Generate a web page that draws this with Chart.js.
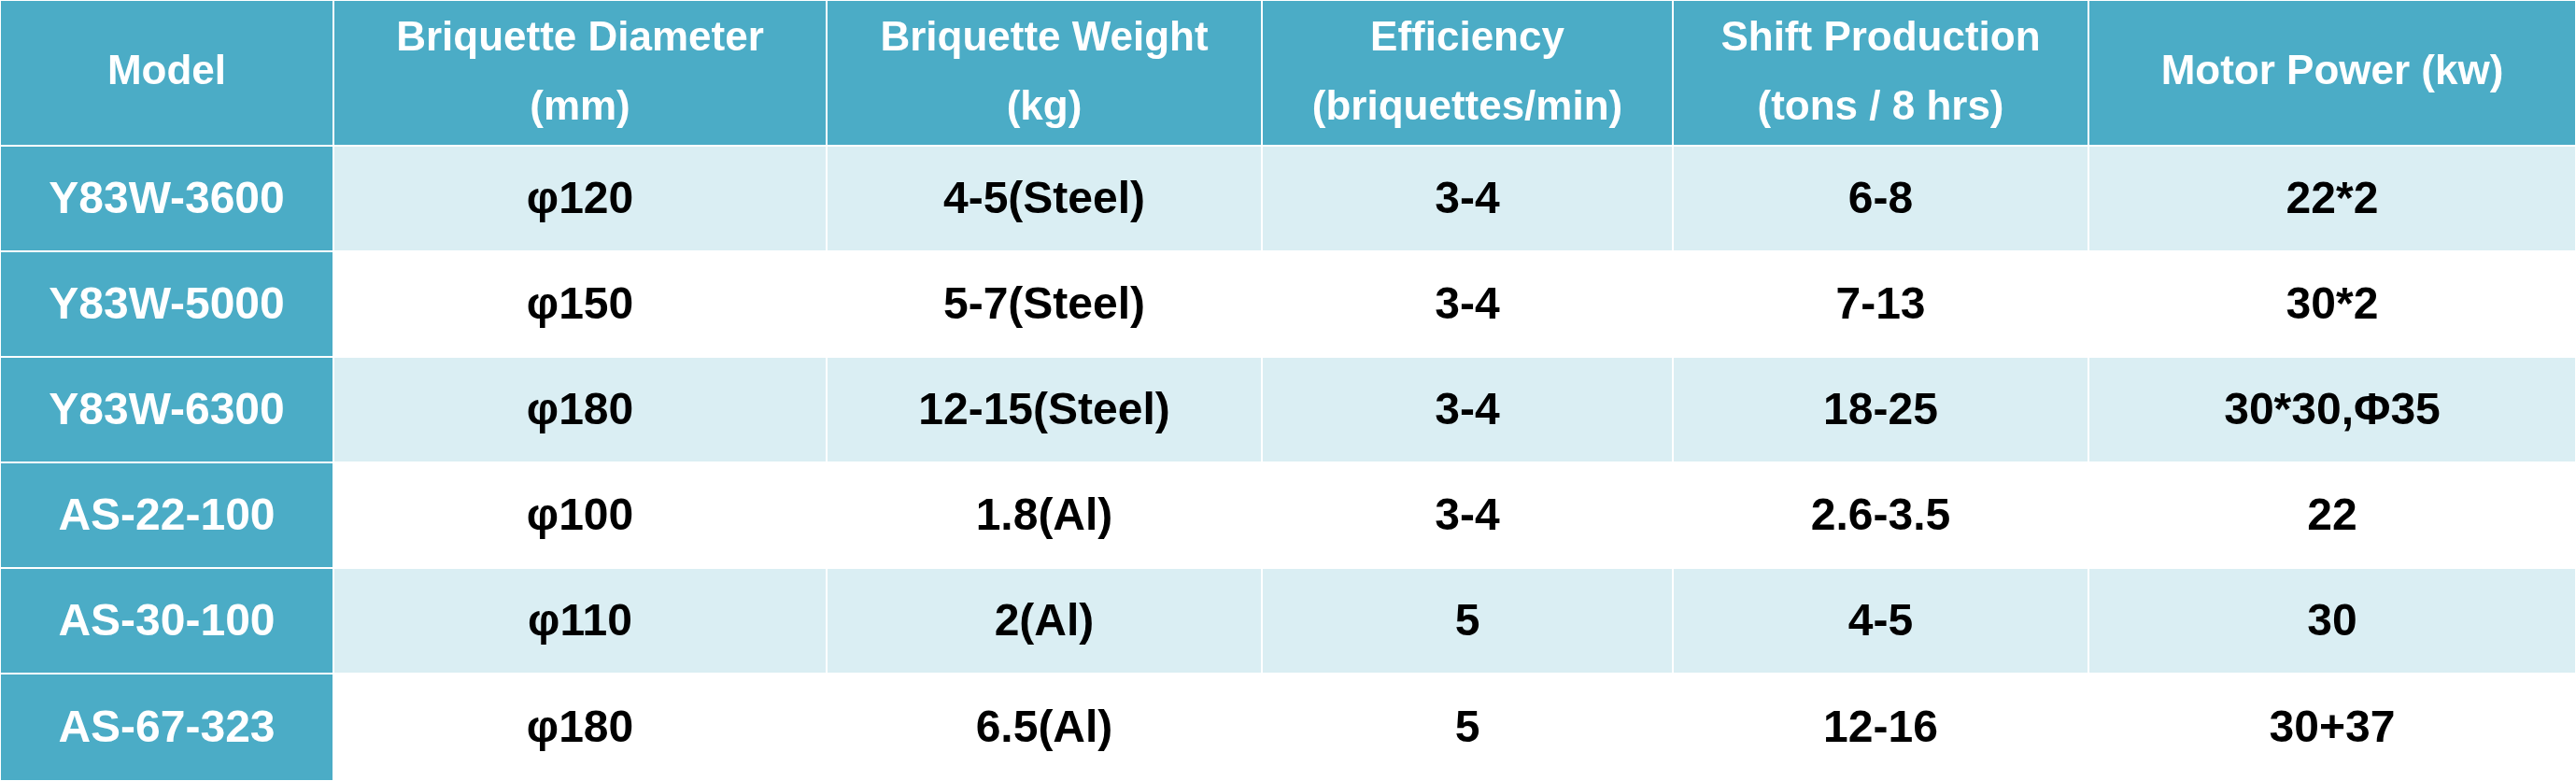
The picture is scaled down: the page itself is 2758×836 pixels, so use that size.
<!DOCTYPE html>
<html><head><meta charset="utf-8">
<script src="https://cdn.jsdelivr.net/npm/chart.js@4"></script>
<style>html,body{margin:0;padding:0;background:#fff}#w{width:2758px;height:836px}</style>
</head><body><div id="w"><canvas id="c"></canvas></div>
<script>
const headers = [["Model"],["Briquette Diameter","(mm)"],["Briquette Weight","(kg)"],["Efficiency","(briquettes/min)"],["Shift Production","(tons / 8 hrs)"],["Motor Power (kw)"]];
const models = ["Y83W-3600","Y83W-5000","Y83W-6300","AS-22-100","AS-30-100","AS-67-323"];
const diameters = ["φ120","φ150","φ180","φ100","φ110","φ180"];
const weights = ["4-5(Steel)","5-7(Steel)","12-15(Steel)","1.8(Al)","2(Al)","6.5(Al)"];
const efficiency = ["3-4","3-4","3-4","3-4","5","5"];
const production = ["6-8","7-13","18-25","2.6-3.5","4-5","12-16"];
const motorPower = ["22*2","30*2","30*30,Φ35","22","30","30+37"];

const colEdges = [0,357,885,1351,1791,2236,2758];
const rowEdges = [0,156,269,382,495,608,721,836];
const TEAL = "#4bacc6", LIGHT = "#daeef3";
const FONT = "'Liberation Sans Narrow','Arial Narrow','Liberation Sans',Arial,sans-serif";

const columns = [models,diameters,weights,efficiency,production,motorPower];

const tablePlugin = {
  id:'table',
  beforeDatasetsDraw(chart){
    const {ctx, scales:{x,y}} = chart;
    ctx.save();
    const nRows = models.length;
    for(let r=-1;r<nRows;r++){
      for(let c=0;c<columns.length;c++){
        const x0=x.getPixelForValue(colEdges[c]), x1=x.getPixelForValue(colEdges[c+1]);
        const y0=y.getPixelForValue(rowEdges[r+1]), y1=y.getPixelForValue(rowEdges[r+2]);
        let bg, fg;
        if(r<0||c===0){bg=TEAL;fg="#fff";} else {bg=(r%2===0)?LIGHT:"#fff";fg="#000";}
        ctx.fillStyle=bg; ctx.fillRect(x0,y0,x1-x0,y1-y0);
        ctx.strokeStyle="#fff"; ctx.lineWidth=2; ctx.strokeRect(x0,y0,x1-x0,y1-y0);
        ctx.fillStyle=fg; ctx.textAlign="center"; ctx.textBaseline="middle";
        const cx=(x0+x1)/2, cy=(y0+y1)/2;
        if(r<0){
          ctx.font="bold 44px "+FONT;
          const lines=headers[c];
          if(lines.length===1) ctx.fillText(lines[0],cx,cy);
          else {ctx.fillText(lines[0],cx,cy-36);ctx.fillText(lines[1],cx,cy+38);}
        } else {
          ctx.font="bold 48px "+FONT;
          ctx.fillText(columns[c][r],cx,cy+2);
        }
      }
    }
    ctx.restore();
  }
};

new Chart(document.getElementById('c'),{
  type:'scatter',
  data:{datasets:[{data:[],pointRadius:0}]},
  options:{
    responsive:true, maintainAspectRatio:false, animation:false,
    layout:{padding:0},
    plugins:{legend:{display:false},tooltip:{enabled:false}},
    scales:{
      x:{type:'linear',min:0,max:2758,display:false},
      y:{type:'linear',min:0,max:836,reverse:true,display:false}
    }
  },
  plugins:[tablePlugin]
});
</script></body></html>
